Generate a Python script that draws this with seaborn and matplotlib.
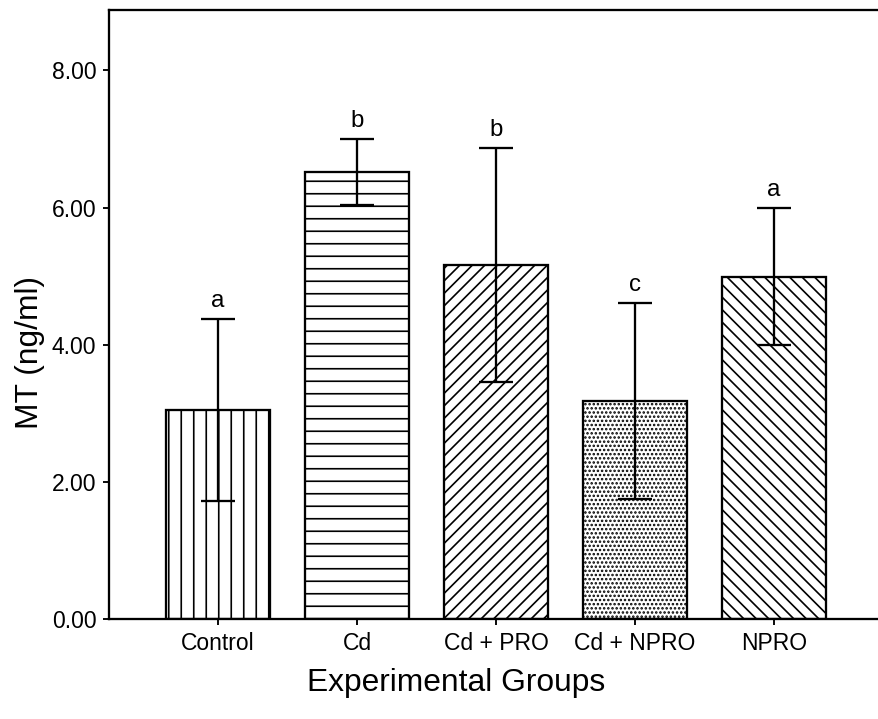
import matplotlib
matplotlib.use("Agg")
import matplotlib.pyplot as plt
import seaborn as sns

# data
groups = ["Control", "Cd", "Cd + PRO", "Cd + NPRO", "NPRO"]
mt_mean = [3.05, 6.52, 5.16, 3.18, 4.99]
mt_sd = [1.33, 0.48, 1.71, 1.43, 1.00]
letters = ["a", "b", "b", "c", "a"]
hatches = ["|", "-", "//", "...", "\\\\"]

sns.set_style("ticks")
plt.rcParams["hatch.linewidth"] = 1.6
plt.rcParams["hatch.color"] = "black"
plt.rcParams["text.color"] = "black"
plt.rcParams["axes.labelcolor"] = "black"
plain = ["Liberation Sans", "DejaVu Sans"]

DPI = 75
fig = plt.figure(figsize=(878 / DPI, 719 / DPI), dpi=DPI)
ax = fig.add_axes([109 / 878, 100 / 719, 769 / 878, 609 / 719])

sns.barplot(x=groups, y=mt_mean, color="white", edgecolor="black",
            linewidth=2.2, width=0.755, errorbar=None, ax=ax)
for bar, h in zip(ax.patches, hatches):
    bar.set_hatch(h)
    bar.set_facecolor("white")

ax.errorbar(x=range(len(groups)), y=mt_mean, yerr=mt_sd, fmt="none",
            ecolor="black", elinewidth=2.2, capsize=16, capthick=2.2)

for i, (m, s, t) in enumerate(zip(mt_mean, mt_sd, letters)):
    ax.text(i, m + s + 0.1, t, ha="center", va="bottom",
            fontsize=23, family=plain, color="black")

ax.set_xlim(-0.784, 4.748)
ax.set_ylim(0, 8.88)
ax.set_yticks([0, 2, 4, 6, 8])
ax.set_yticklabels(["0.00", "2.00", "4.00", "6.00", "8.00"])

for sp in ["top", "left", "bottom"]:
    ax.spines[sp].set_linewidth(2.2)
    ax.spines[sp].set_color("black")
    ax.spines[sp].set_visible(True)
ax.spines["right"].set_visible(False)

ax.tick_params(axis="both", direction="out", length=6, width=1.8,
               colors="black", pad=6)
for lab in ax.get_xticklabels() + ax.get_yticklabels():
    lab.set_fontsize(22)
    lab.set_family(plain)
    lab.set_color("black")

ax.set_xlabel("Experimental Groups", fontsize=30.5, family=plain)
ax.set_ylabel("MT (ng/ml)", fontsize=30.5, family=plain)
ax.xaxis.set_label_coords(0.451, -0.105)
ax.yaxis.set_label_coords(-0.103, 0.438)
ax.xaxis.label.set_va("center")
ax.yaxis.label.set_va("center")

fig.savefig("out.png", dpi=DPI)
